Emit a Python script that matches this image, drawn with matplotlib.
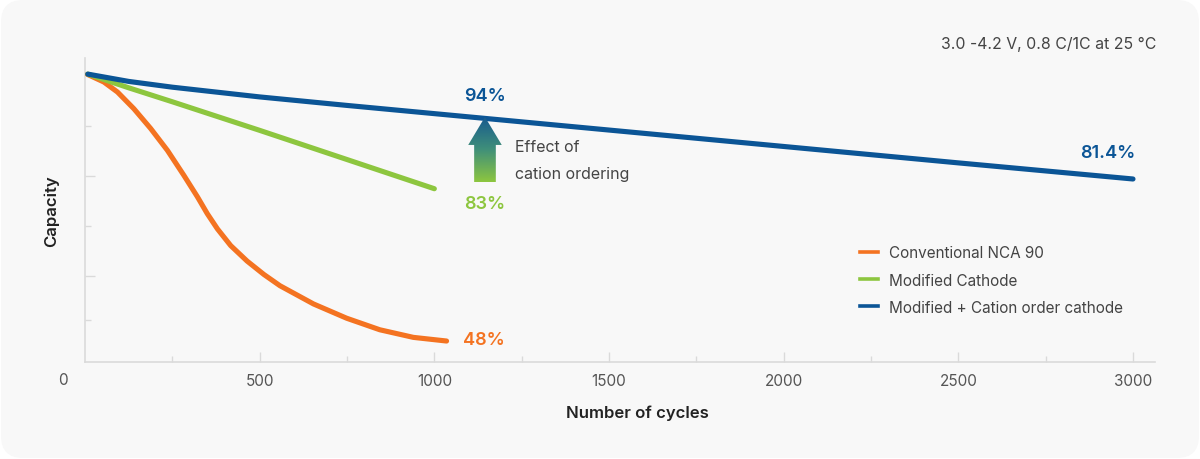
import numpy as np
import matplotlib
matplotlib.use('Agg')
import matplotlib.pyplot as plt
from matplotlib.lines import Line2D
from matplotlib.patches import FancyBboxPatch, Polygon
from matplotlib.colors import LinearSegmentedColormap
from matplotlib.transforms import IdentityTransform

plt.rcParams['font.family'] = ['Inter', 'DejaVu Sans']

# ---- Data (capacity on an arbitrary 0-100 chart scale) ----
blue_cycles = [8, 125, 250, 500, 750, 1000, 1500, 2000, 2500, 3000]
blue_cap = [94.7, 92.3, 90.4, 87.2, 84.4, 81.7, 76.3, 70.9, 65.5, 60.2]

green_cycles = [8, 125, 250, 500, 750, 1000]
green_cap = [94.7, 90.2, 85.6, 76.2, 66.6, 57.0]

orange_cycles = [7, 54, 93, 140, 188, 236, 283, 322, 350, 379, 417, 464,
                 512, 558, 654, 749, 844, 940, 1035]
orange_cap = [94.6, 92.1, 88.8, 83.3, 76.8, 69.6, 61.4, 54.3, 48.8, 43.8,
              38.3, 33.2, 28.8, 25.1, 19.1, 14.4, 10.6, 8.1, 6.9]

series_names = ['Conventional NCA 90', 'Modified Cathode',
                'Modified + Cation order cathode']
series_colors = ['#f47321', '#8dc63f', '#0b5596']

end_labels = ['48%', '83%', '81.4%']
tip_label = '94%'

# arrow "Effect of cation ordering": x centre, bottom, head base, tip
arrow_x = 1145
arrow_bottom = 59.2
arrow_head = 71.4
arrow_tip = 80.6

x_major = [500, 1000, 1500, 2000, 2500, 3000]
x_minor = [250, 750, 1250, 1750, 2250, 2750]
y_major = [28.3, 61.2]
y_minor = [13.8, 44.7, 77.6]

# ---- Figure ----
fig = plt.figure(figsize=(12, 4.6), dpi=100)
fig.patch.set_facecolor('white')
card = FancyBboxPatch((1, 1), 1198, 458, boxstyle='round,pad=0,rounding_size=22',
                      transform=IdentityTransform(), facecolor='#f8f8f8',
                      edgecolor='none', zorder=-10)
fig.patches.append(card)

ax = fig.add_axes([85 / 1200, 97 / 460, 1070 / 1200, 304 / 460])
ax.set_facecolor('none')

for s in ['top', 'right']:
    ax.spines[s].set_visible(False)
for s in ['left', 'bottom']:
    ax.spines[s].set_color('#dadada')
    ax.spines[s].set_linewidth(1.2)

ax.set_xticks(x_major)
ax.set_xticks(x_minor, minor=True)
ax.set_yticks(y_major)
ax.set_yticks(y_minor, minor=True)
ax.set_yticklabels([])
ax.tick_params(axis='both', which='major', direction='in', length=7, width=1,
               color='#dadada', labelsize=11, labelcolor='#555555')
ax.tick_params(axis='both', which='minor', direction='in', length=4, width=1,
               color='#dadada')
ax.tick_params(axis='x', pad=8)
ax.annotate('0', (0, 0), xytext=(-22, -18), textcoords='offset pixels',
            ha='center', va='center', fontsize=11, color='#555555',
            annotation_clip=False)

# ---- Lines ----
lw = 3.7
ax.plot(orange_cycles, orange_cap, color=series_colors[0], lw=lw,
        solid_capstyle='round', solid_joinstyle='round', zorder=3)
ax.plot(green_cycles, green_cap, color=series_colors[1], lw=lw,
        solid_capstyle='round', solid_joinstyle='round', zorder=3)
ax.plot(blue_cycles, blue_cap, color=series_colors[2], lw=lw,
        solid_capstyle='round', solid_joinstyle='round', zorder=4)

# ---- Gradient arrow ----
shaft_half = 31
head_half = 48
arrow_pts = [(arrow_x - shaft_half, arrow_bottom), (arrow_x + shaft_half, arrow_bottom),
             (arrow_x + shaft_half, arrow_head), (arrow_x + head_half, arrow_head),
             (arrow_x, arrow_tip), (arrow_x - head_half, arrow_head),
             (arrow_x - shaft_half, arrow_head)]
arrow_poly = Polygon(arrow_pts, closed=True, facecolor='none', edgecolor='none')
ax.add_patch(arrow_poly)
grad_cmap = LinearSegmentedColormap.from_list('arrowgrad', ['#8dc63f', '#3f8f7a', '#17598f'])
grad = np.linspace(0, 1, 256).reshape(-1, 1)
img = ax.imshow(grad, cmap=grad_cmap, origin='lower', aspect='auto',
                extent=[arrow_x - head_half, arrow_x + head_half, arrow_bottom, arrow_tip],
                zorder=5, interpolation='bilinear')
img.set_clip_path(arrow_poly)
ax.set_xlim(0, 3063)
ax.set_ylim(0, 100)

# ---- Value labels ----
lab_kw = dict(fontsize=13, fontweight='semibold', textcoords='offset pixels')
ax.annotate(end_labels[0], (orange_cycles[-1], orange_cap[-1]), xytext=(16, 2),
            ha='left', va='center', color=series_colors[0], **lab_kw)
ax.annotate(end_labels[1], (arrow_x, arrow_bottom), xytext=(0, -21),
            ha='center', va='center', color=series_colors[1], **lab_kw)
ax.annotate(end_labels[2], (blue_cycles[-1], blue_cap[-1]), xytext=(2, 26),
            ha='right', va='center', color=series_colors[2], **lab_kw)
ax.annotate(tip_label, (arrow_x, arrow_tip), xytext=(0, 21),
            ha='center', va='center', color=series_colors[2], **lab_kw)

ax.annotate('Effect of\ncation ordering', (arrow_x, arrow_head), xytext=(30, -15),
            textcoords='offset pixels', ha='left', va='center', fontsize=11.5,
            color='#444444', linespacing=1.95)

# ---- Axis titles ----
ax.set_xlabel('Number of cycles', fontsize=12, fontweight='semibold',
              color='#222222', labelpad=12)
ax.xaxis.label.set_x((637 - 85) / 1070)
ax.set_ylabel('Capacity', fontsize=12, fontweight='semibold',
              color='#222222', labelpad=15)

fig.text(1156 / 1200, 1 - 44 / 460, '3.0 -4.2 V, 0.8 C/1C at 25 \u00b0C',
         ha='right', va='center', fontsize=11.4, color='#444444')

# ---- Legend ----
handles = [Line2D([0], [0], color=c, lw=2.6) for c in series_colors]
ax.legend(handles, series_names, loc='center left',
          bbox_to_anchor=((860 - 85) / 1070, (363 - 281) / 304),
          frameon=False, fontsize=11, labelcolor='#444444',
          handlelength=1.2, handletextpad=0.7, labelspacing=0.8,
          borderpad=0, borderaxespad=0)

fig.savefig('out.png', dpi=100, facecolor=fig.get_facecolor())
